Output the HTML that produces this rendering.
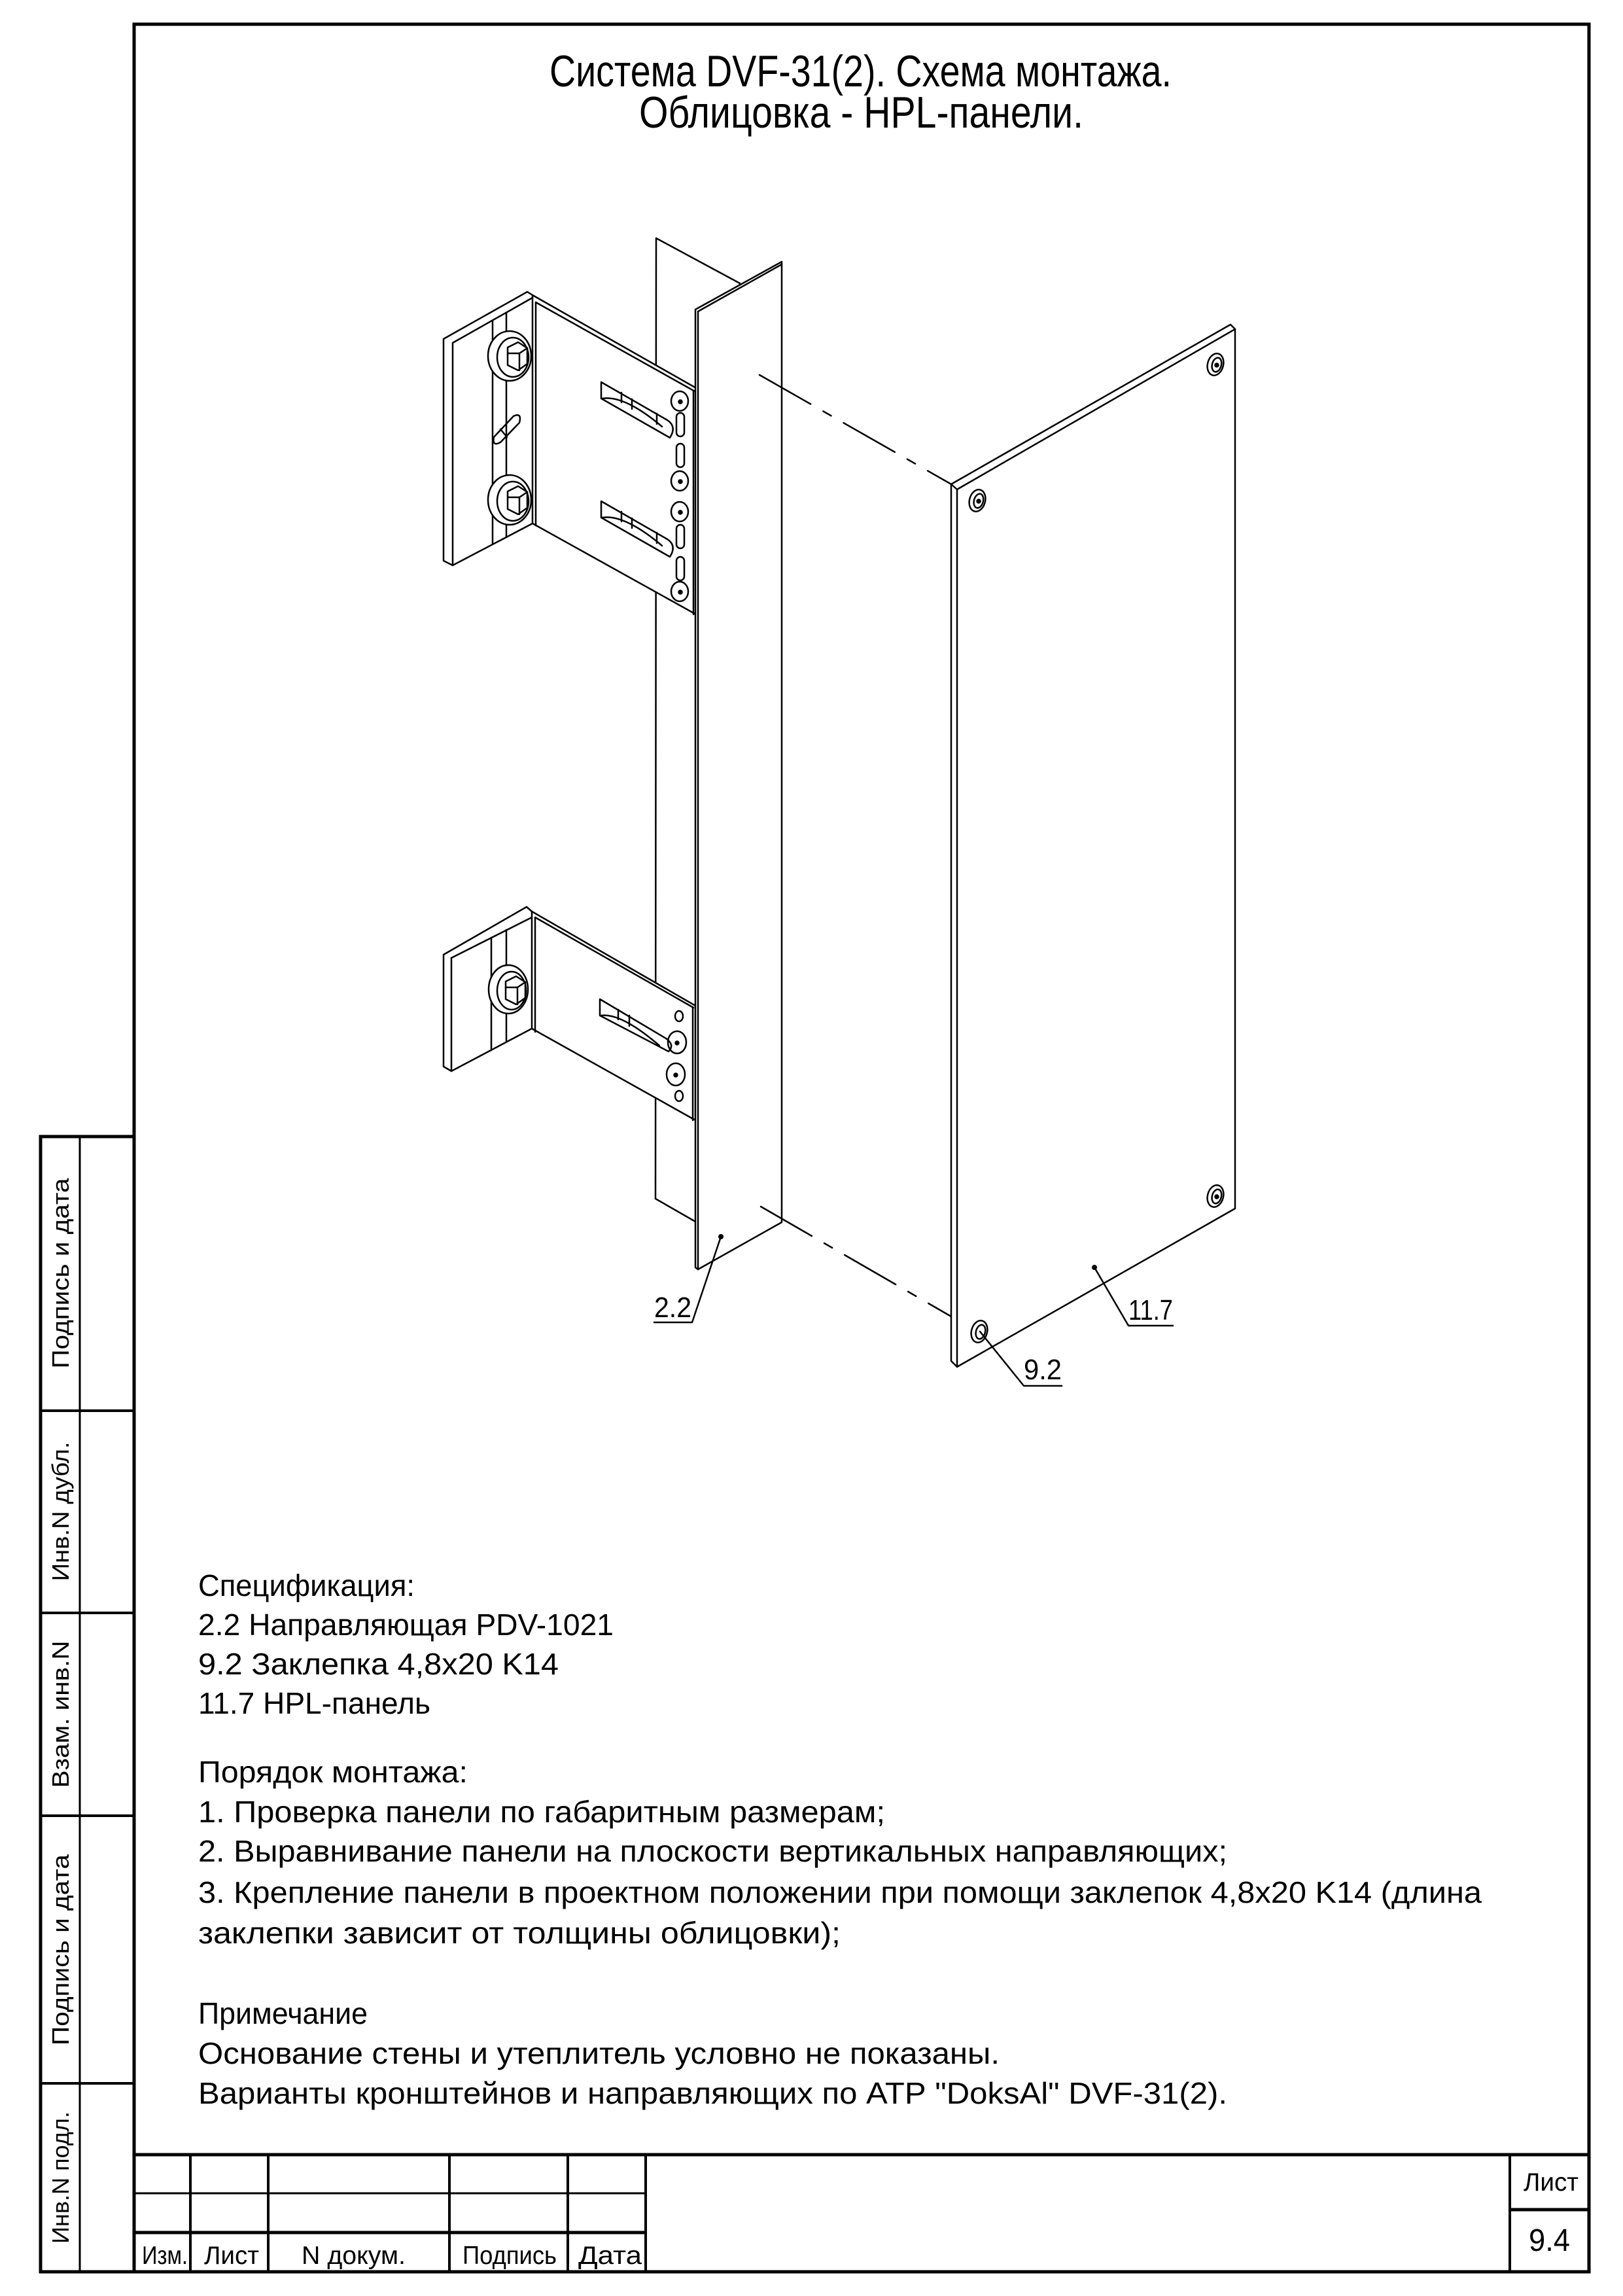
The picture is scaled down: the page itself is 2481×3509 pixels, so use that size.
<!DOCTYPE html>
<html><head><meta charset="utf-8"><style>
html,body{margin:0;padding:0;background:#fff;}
svg{display:block;}
text{font-family:"Liberation Sans","DejaVu Sans",sans-serif;fill:#000;}
</style></head><body>
<svg width="2481" height="3509" viewBox="0 0 2481 3509" xmlns="http://www.w3.org/2000/svg">
<rect width="2481" height="3509" fill="#fff"/>
<!-- frame -->
<g stroke="#000" fill="none">
<rect x="205" y="37" width="2224" height="3435" stroke-width="5"/>
<!-- stamp -->
<polyline points="205,1737 62,1737 62,3472 205,3472" stroke-width="5"/>
<line x1="122" y1="1737" x2="122" y2="3472" stroke-width="3"/>
<line x1="62" y1="2156" x2="205" y2="2156" stroke-width="4"/>
<line x1="62" y1="2465" x2="205" y2="2465" stroke-width="4"/>
<line x1="62" y1="2775" x2="205" y2="2775" stroke-width="4"/>
<line x1="62" y1="3184" x2="205" y2="3184" stroke-width="4"/>
<!-- title block -->
<line x1="205" y1="3293" x2="2429" y2="3293" stroke-width="5"/>
<line x1="205" y1="3352" x2="987" y2="3352" stroke-width="3"/>
<line x1="205" y1="3412" x2="987" y2="3412" stroke-width="5"/>
<line x1="291" y1="3293" x2="291" y2="3472" stroke-width="4"/>
<line x1="410" y1="3293" x2="410" y2="3472" stroke-width="4"/>
<line x1="687" y1="3293" x2="687" y2="3472" stroke-width="4"/>
<line x1="868" y1="3293" x2="868" y2="3472" stroke-width="4"/>
<line x1="987" y1="3293" x2="987" y2="3472" stroke-width="4"/>
<line x1="2308" y1="3293" x2="2308" y2="3472" stroke-width="4"/>
<line x1="2308" y1="3377" x2="2429" y2="3377" stroke-width="5"/>
</g>
<!-- stamp labels -->
<g font-size="36">
<text transform="translate(105,1946) rotate(-90)" text-anchor="middle" textLength="291" lengthAdjust="spacingAndGlyphs">Подпись и дата</text>
<text transform="translate(105,2310) rotate(-90)" text-anchor="middle" textLength="213" lengthAdjust="spacingAndGlyphs">Инв.N дубл.</text>
<text transform="translate(105,2620) rotate(-90)" text-anchor="middle" textLength="225" lengthAdjust="spacingAndGlyphs">Взам. инв.N</text>
<text transform="translate(105,2980) rotate(-90)" text-anchor="middle" textLength="292" lengthAdjust="spacingAndGlyphs">Подпись и дата</text>
<text transform="translate(105,3328) rotate(-90)" text-anchor="middle" textLength="202" lengthAdjust="spacingAndGlyphs">Инв.N подл.</text>
</g>
<g font-size="39">
<text x="217" y="3460" textLength="70" lengthAdjust="spacingAndGlyphs">Изм.</text>
<text x="312" y="3460" textLength="84" lengthAdjust="spacingAndGlyphs">Лист</text>
<text x="461" y="3460" textLength="159" lengthAdjust="spacingAndGlyphs">N докум.</text>
<text x="707" y="3460" textLength="144" lengthAdjust="spacingAndGlyphs">Подпись</text>
<text x="884" y="3460" textLength="97" lengthAdjust="spacingAndGlyphs">Дата</text>
<text x="2329" y="3348" textLength="84" lengthAdjust="spacingAndGlyphs">Лист</text>
</g>
<text x="2337" y="3440" font-size="48" textLength="63" lengthAdjust="spacingAndGlyphs">9.4</text>
<!-- title -->
<g font-size="68">
<text x="840" y="132" textLength="951" lengthAdjust="spacingAndGlyphs">Система DVF-31(2). Схема монтажа.</text>
<text x="977" y="195" textLength="679" lengthAdjust="spacingAndGlyphs">Облицовка - HPL-панели.</text>
</g>
<!-- spec text -->
<g font-size="46">
<text x="303" y="2439" textLength="331" lengthAdjust="spacingAndGlyphs">Спецификация:</text>
<text x="303" y="2499" textLength="635" lengthAdjust="spacingAndGlyphs">2.2 Направляющая PDV-1021</text>
<text x="303" y="2559" textLength="551" lengthAdjust="spacingAndGlyphs">9.2 Заклепка 4,8x20 K14</text>
<text x="303" y="2619" textLength="355" lengthAdjust="spacingAndGlyphs">11.7 HPL-панель</text>
<text x="303" y="2724" textLength="412" lengthAdjust="spacingAndGlyphs">Порядок монтажа:</text>
<text x="303" y="2785" textLength="1050" lengthAdjust="spacingAndGlyphs">1. Проверка панели по габаритным размерам;</text>
<text x="303" y="2845" textLength="1573" lengthAdjust="spacingAndGlyphs">2. Выравнивание панели на плоскости вертикальных направляющих;</text>
<text x="303" y="2908" textLength="1962" lengthAdjust="spacingAndGlyphs">3. Крепление панели в проектном положении при помощи заклепок 4,8x20 K14 (длина</text>
<text x="303" y="2970" textLength="982" lengthAdjust="spacingAndGlyphs">заклепки зависит от толщины облицовки);</text>
<text x="303" y="3093" textLength="259" lengthAdjust="spacingAndGlyphs">Примечание</text>
<text x="303" y="3154" textLength="1225" lengthAdjust="spacingAndGlyphs">Основание стены и утеплитель условно не показаны.</text>
<text x="303" y="3215" textLength="1573" lengthAdjust="spacingAndGlyphs">Варианты кронштейнов и направляющих по АТР "DoksAl" DVF-31(2).</text>
</g>

<!-- DRAWING -->
<g stroke="#000" stroke-width="2.5" fill="none" stroke-linejoin="round" stroke-linecap="round">
<!-- rail back web -->
<polygon points="1003,364 1131,433 1131,1870 1063,1867 1002,1832" fill="#fff"/>

<!-- upper bracket -->
<polygon points="678,518 806,446 814,451 1064,593 1064,939 814,800 692,864 678,857" fill="#fff"/>
<line x1="692" y1="524" x2="692" y2="864"/>
<line x1="692" y1="524" x2="814" y2="455"/>
<line x1="814" y1="451" x2="814" y2="800"/>
<line x1="819" y1="462" x2="819" y2="803"/>
<line x1="819" y1="462" x2="1062" y2="598"/>
<line x1="1060" y1="598" x2="1060" y2="939"/>
<line x1="753" y1="490" x2="753" y2="831"/>
<line x1="774" y1="478" x2="774" y2="820"/>
<!-- bolts -->
<g>
<ellipse cx="779" cy="544" rx="33" ry="38" fill="#fff"/>
<ellipse cx="784" cy="546" rx="24" ry="30"/>
<polygon points="776,531 792,523 806,532 806,556 792,566 776,558" fill="#fff"/>
<line x1="776" y1="540" x2="794" y2="540"/><line x1="794" y1="540" x2="806" y2="532"/><line x1="794" y1="540" x2="794" y2="566"/>
</g>
<g>
<ellipse cx="779" cy="764" rx="33" ry="38" fill="#fff"/>
<ellipse cx="784" cy="766" rx="24" ry="30"/>
<polygon points="776,751 792,743 806,752 806,776 792,786 776,778" fill="#fff"/>
<line x1="776" y1="760" x2="794" y2="760"/><line x1="794" y1="760" x2="806" y2="752"/><line x1="794" y1="760" x2="794" y2="786"/>
</g>
<!-- small slot on plate -->
<path d="M755,668 L785,636 Q798,630 794,646 L765,676 Q752,683 755,668 Z"/>
<line x1="765" y1="656" x2="775" y2="668"/>
<!-- big slots -->
<path d="M919,584 L1020,642 Q1035,652 1024,669 L919,609 Z"/>
<path d="M921,609 Q955,604 1012,652"/><line x1="950" y1="600" x2="950" y2="615"/><line x1="966" y1="610" x2="966" y2="625"/><line x1="1004" y1="632" x2="1004" y2="648"/>
<path d="M919,766 L1020,824 Q1035,834 1024,851 L919,791 Z"/>
<path d="M921,791 Q955,786 1012,834"/><line x1="950" y1="782" x2="950" y2="797"/><line x1="966" y1="792" x2="966" y2="807"/><line x1="1004" y1="814" x2="1004" y2="830"/>
<!-- holes column -->
<ellipse cx="1039" cy="613" rx="13" ry="15"/><circle cx="1040" cy="614" r="2.5" fill="#000"/>
<ellipse cx="1039" cy="735" rx="13" ry="15"/><circle cx="1040" cy="736" r="2.5" fill="#000"/>
<ellipse cx="1039" cy="782" rx="13" ry="15"/><circle cx="1040" cy="783" r="2.5" fill="#000"/>
<ellipse cx="1039" cy="904" rx="13" ry="15"/><circle cx="1040" cy="905" r="2.5" fill="#000"/>
<rect x="1034" y="631" width="12" height="36" rx="6"/>
<rect x="1034" y="678" width="12" height="36" rx="6"/>
<rect x="1034" y="802" width="12" height="36" rx="6"/>
<rect x="1034" y="851" width="12" height="36" rx="6"/>

<!-- lower bracket -->
<polygon points="678,1459 805,1386 813,1393 1063,1537 1063,1712 813,1572 690,1637 678,1630" fill="#fff"/>
<line x1="690" y1="1464" x2="690" y2="1637"/>
<line x1="690" y1="1464" x2="813" y2="1402"/>
<line x1="813" y1="1393" x2="813" y2="1572"/>
<line x1="818" y1="1402" x2="818" y2="1577"/>
<line x1="818" y1="1402" x2="1060" y2="1540"/>
<line x1="1059" y1="1540" x2="1059" y2="1712"/>
<line x1="751" y1="1433" x2="751" y2="1605"/>
<line x1="774" y1="1421" x2="774" y2="1592"/>
<g>
<ellipse cx="777" cy="1512" rx="30" ry="37" fill="#fff"/>
<ellipse cx="782" cy="1514" rx="22" ry="29"/>
<polygon points="773,1500 789,1492 803,1501 803,1525 789,1535 773,1527" fill="#fff"/>
<line x1="773" y1="1509" x2="791" y2="1509"/><line x1="791" y1="1509" x2="803" y2="1501"/><line x1="791" y1="1509" x2="791" y2="1535"/>
</g>
<path d="M917,1527 L1018,1587 Q1032,1597 1022,1607 L917,1552 Z"/>
<path d="M919,1552 Q950,1548 1008,1598"/><line x1="945" y1="1543" x2="945" y2="1558"/><line x1="962" y1="1552" x2="962" y2="1568"/>
<ellipse cx="1038" cy="1553" rx="6" ry="8"/>
<ellipse cx="1035" cy="1593" rx="14" ry="17"/><circle cx="1035" cy="1594" r="2.5" fill="#000"/>
<ellipse cx="1033" cy="1642" rx="14" ry="17"/><circle cx="1033" cy="1643" r="2.5" fill="#000"/>
<ellipse cx="1038" cy="1675" rx="6" ry="8"/>

<!-- rail front flange -->
<polygon points="1063,473 1195,400 1195,1868 1067,1940 1063,1937" fill="#fff"/>
<line x1="1067" y1="476" x2="1067" y2="1940"/>
<line x1="1067" y1="476" x2="1195" y2="404"/>

<!-- dashed projection lines -->
<line x1="1161" y1="573" x2="1454" y2="740" stroke-dasharray="90,22,14,22"/>
<line x1="1163" y1="1844" x2="1454" y2="2012" stroke-dasharray="90,22,14,22"/>

<!-- panel -->
<polygon points="1454,740 1881,496 1888,503 1888,1847 1463,2089 1454,2080" fill="#fff"/>
<line x1="1463" y1="748" x2="1463" y2="2089"/>
<line x1="1463" y1="748" x2="1888" y2="503"/>
<line x1="1454" y1="740" x2="1463" y2="748"/>
<!-- rivets -->
<g transform="rotate(15 1494 765)"><ellipse cx="1494" cy="765" rx="12" ry="17"/><ellipse cx="1496" cy="765" rx="7" ry="11"/></g><circle cx="1496" cy="766" r="2.5" fill="#000"/>
<g transform="rotate(15 1858 557)"><ellipse cx="1858" cy="557" rx="12" ry="17"/><ellipse cx="1860" cy="557" rx="7" ry="11"/></g><circle cx="1860" cy="558" r="2.5" fill="#000"/>
<g transform="rotate(15 1858 1828)"><ellipse cx="1858" cy="1828" rx="12" ry="17"/><ellipse cx="1860" cy="1828" rx="7" ry="11"/></g><circle cx="1860" cy="1829" r="2.5" fill="#000"/>
<g transform="rotate(15 1497 2035)"><ellipse cx="1497" cy="2035" rx="12" ry="17"/><ellipse cx="1499" cy="2035" rx="7" ry="11"/></g>

<!-- leaders -->
<polyline points="1102,1890 1058,2021 1000,2021"/>
<polyline points="1498,2035 1565,2118 1623,2118"/>
<polyline points="1673,1937 1725,2026 1793,2026"/>
</g>
<circle cx="1102" cy="1890" r="4" fill="#000"/>
<circle cx="1673" cy="1937" r="4" fill="#000"/>
<g font-size="44">
<text x="1000" y="2013" textLength="57" lengthAdjust="spacingAndGlyphs">2.2</text>
<text x="1565" y="2108" textLength="58" lengthAdjust="spacingAndGlyphs">9.2</text>
<text x="1725" y="2017" textLength="68" lengthAdjust="spacingAndGlyphs">11.7</text>
</g>
</svg>
</body></html>
